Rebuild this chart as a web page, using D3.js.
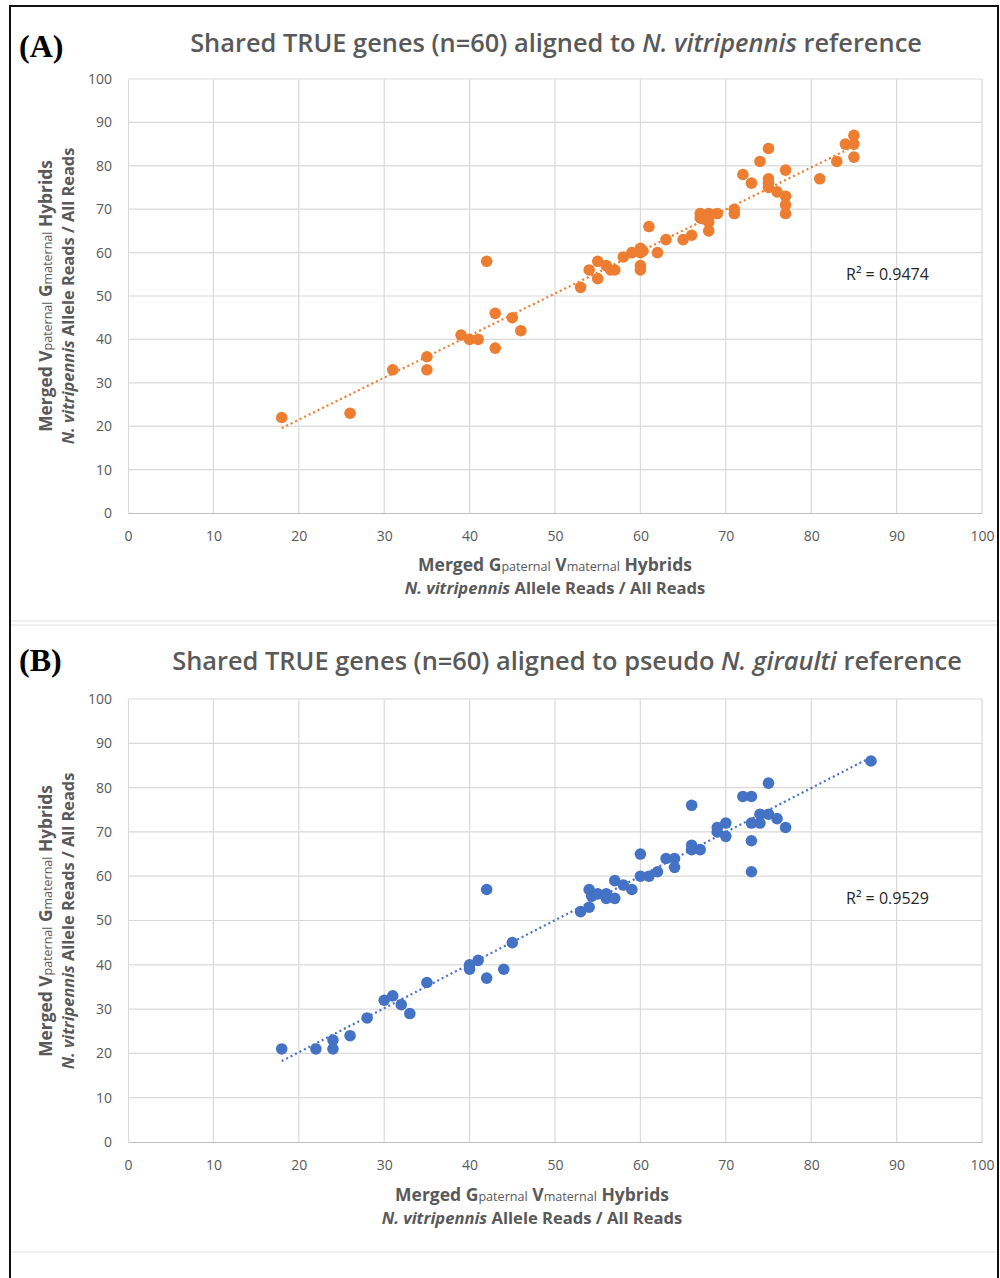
<!DOCTYPE html>
<html>
<head>
<meta charset="utf-8">
<script src="https://cdn.jsdelivr.net/npm/d3@7"></script>
<style>
  body { margin: 0; background: #fff; }
  text { font-family: "Open Sans", "Noto Sans", sans-serif; }
</style>
</head>
<body>
<div id="chart"></div>
<script>
// 刻度
const xTicks = [0, 10, 20, 30, 40, 50, 60, 70, 80, 90, 100];
const yTicks = [0, 10, 20, 30, 40, 50, 60, 70, 80, 90, 100];

// (A) 对齐到 N. vitripennis 参考
const aX = [18, 26, 31, 35, 35, 39, 40, 41, 42, 43, 43, 45, 46, 53, 54, 55, 55, 56, 56.5, 57,
            58, 59, 60, 60, 60, 60, 61, 62, 63, 65, 66, 67, 67, 68, 68, 68, 69, 71, 71, 72,
            73, 74, 75, 75, 75, 75, 76, 77, 77, 77, 77, 81, 83, 84, 85, 85, 85, 67.3, 68, 60.3];
const aY = [22, 23, 33, 36, 33, 41, 40, 40, 58, 46, 38, 45, 42, 52, 56, 58, 54, 57, 56, 56,
            59, 60, 61, 60, 57, 56, 66, 60, 63, 63, 64, 69, 68, 69, 67, 65, 69, 70, 69, 78,
            76, 81, 84, 77, 76, 75, 74, 79, 73, 71, 69, 77, 81, 85, 87, 85, 82, 67.8, 68, 60.4];
const aR2 = "R\u00B2 = 0.9474";

// (B) 对齐到 pseudo N. giraulti 参考
const bX = [18, 22, 24, 24, 26, 28, 30, 31, 32, 33, 35, 40, 40, 41, 42, 42, 44, 45, 53, 54,
            54, 54.3, 55, 56, 56, 57, 57, 58, 59, 60, 60, 61, 62, 63, 64, 64, 66, 66, 66, 67,
            69, 69, 70, 70, 72, 73, 73, 73, 73, 74, 74, 75, 75, 76, 77, 87];
const bY = [21, 21, 23, 21, 24, 28, 32, 33, 31, 29, 36, 40, 39, 41, 57, 37, 39, 45, 52, 53,
            57, 55.5, 56, 56, 55, 55, 59, 58, 57, 60, 65, 60, 61, 64, 64, 62, 76, 67, 66, 66,
            70, 71, 72, 69, 78, 78, 72, 68, 61, 74, 72, 81, 74, 73, 71, 86];
const bR2 = "R\u00B2 = 0.9529";

const svg = d3.select("#chart").append("svg")
  .attr("width", 1000).attr("height", 1278);

// 外框和分隔线
svg.append("rect").attr("x", 10).attr("y", 6).attr("width", 988).attr("height", 1290)
  .attr("fill", "none").attr("stroke", "#111").attr("stroke-width", 2);
[621, 625, 1252].forEach(y => {
  svg.append("line").attr("x1", 11).attr("x2", 997).attr("y1", y).attr("y2", y)
    .attr("stroke", "#e2e2e2").attr("stroke-width", 1.2);
});

// 按宽度调整字号
function fitWidth(sel, base, target) {
  sel.style("font-size", base + "px");
  const w = sel.node().getComputedTextLength();
  sel.style("font-size", (base * target / w) + "px");
}

function drawPanel(p) {
  const x = d3.scaleLinear().domain([0, 100]).range([128, 982]);
  const y = d3.scaleLinear().domain([0, 100]).range([p.bottom, p.top]);
  const g = svg.append("g");

  // 网格
  g.append("g").selectAll("line").data(xTicks.slice(1)).join("line")
    .attr("x1", d => x(d)).attr("x2", d => x(d)).attr("y1", y(0)).attr("y2", y(100))
    .attr("stroke", "#d9d9d9").attr("stroke-width", 1.2);
  g.append("g").selectAll("line").data(yTicks.slice(1)).join("line")
    .attr("x1", x(0)).attr("x2", x(100)).attr("y1", d => y(d)).attr("y2", d => y(d))
    .attr("stroke", "#d9d9d9").attr("stroke-width", 1.2);

  // 坐标轴
  const xa = g.append("g").attr("transform", `translate(0,${y(0)})`)
    .call(d3.axisBottom(x).tickValues(xTicks).tickSize(0).tickPadding(18));
  const ya = g.append("g").attr("transform", `translate(${x(0)},0)`)
    .call(d3.axisLeft(y).tickValues(yTicks).tickSize(0).tickPadding(16));
  xa.select(".domain").attr("stroke", "#bfbfbf").attr("stroke-width", 1.2);
  ya.select(".domain").attr("stroke", "#d9d9d9").attr("stroke-width", 1.2);
  [xa, ya].forEach(a => a.selectAll("text")
    .attr("fill", "#595959").style("font-size", "14px")
    .style("font-family", "'Open Sans', sans-serif"));

  // 趋势线（最小二乘）
  const pts = p.xs.map((v, i) => ({ x: v, y: p.ys[i] }));
  const mx = d3.mean(pts, d => d.x), my = d3.mean(pts, d => d.y);
  const slope = d3.sum(pts, d => (d.x - mx) * (d.y - my)) / d3.sum(pts, d => (d.x - mx) ** 2);
  const icpt = my - slope * mx;
  const ext = d3.extent(pts, d => d.x);
  g.append("path")
    .attr("d", d3.line().x(d => x(d)).y(d => y(icpt + slope * d))(ext))
    .attr("fill", "none").attr("stroke", p.color).attr("stroke-width", 2.2)
    .attr("stroke-dasharray", "2 3");

  // 点
  g.selectAll(".pt").data(pts).join("circle").attr("class", "pt")
    .attr("cx", d => x(d.x)).attr("cy", d => y(d.y)).attr("r", 5.8)
    .attr("fill", p.color);

  // R²
  g.append("text").attr("x", 846).attr("y", p.r2y).attr("fill", "#262626")
    .style("font-size", "16px").text(p.r2);

  // 面板标签
  g.append("text").attr("x", 19).attr("y", p.labelY)
    .style("font-family", "'Liberation Serif', serif").style("font-weight", "bold")
    .style("font-size", "32px").attr("fill", "#000").text(p.label);

  // 标题
  const t = g.append("text").attr("x", p.titleCx).attr("y", p.titleY)
    .attr("text-anchor", "middle").attr("fill", "#595959").style("font-weight", 600);
  p.title.forEach(s => t.append("tspan").style("font-style", s.i ? "italic" : "normal").text(s.t));
  fitWidth(t, 22, p.titleW);

  // X轴标题
  const xt1 = g.append("text").attr("x", p.xTitleCx).attr("y", p.xTitleY)
    .attr("text-anchor", "middle").attr("fill", "#595959").style("font-weight", "bold");
  [["Merged G", 1], ["paternal", 0.72], [" V", 1], ["maternal", 0.72], [" Hybrids", 1]]
    .forEach(([s, k]) => xt1.append("tspan").style("font-size", k + "em")
      .style("font-weight", k < 1 ? "normal" : "bold").text(s));
  fitWidth(xt1, 16, 274);
  const xt2 = g.append("text").attr("x", p.xTitleCx).attr("y", p.xTitleY + 23)
    .attr("text-anchor", "middle").attr("fill", "#595959").style("font-weight", "bold");
  xt2.append("tspan").style("font-style", "italic").text("N. vitripennis");
  xt2.append("tspan").text(" Allele Reads / All Reads");
  fitWidth(xt2, 16, 301);

  // Y轴标题
  const yg = g.append("g").attr("transform", `translate(0,${p.yTitleCy}) rotate(-90)`);
  const yt1 = yg.append("text").attr("x", 0).attr("y", 52)
    .attr("text-anchor", "middle").attr("fill", "#595959").style("font-weight", "bold");
  [["Merged V", 1], ["paternal", 0.72], [" G", 1], ["maternal", 0.72], [" Hybrids", 1]]
    .forEach(([s, k]) => yt1.append("tspan").style("font-size", k + "em")
      .style("font-weight", k < 1 ? "normal" : "bold").text(s));
  fitWidth(yt1, 16, 272);
  const yt2 = yg.append("text").attr("x", 0).attr("y", 74)
    .attr("text-anchor", "middle").attr("fill", "#595959").style("font-weight", "bold");
  yt2.append("tspan").style("font-style", "italic").text("N. vitripennis");
  yt2.append("tspan").text(" Allele Reads / All Reads");
  fitWidth(yt2, 16, 297);
}

drawPanel({
  xs: aX, ys: aY, color: "#ED7D31", top: 79, bottom: 513,
  label: "(A)", labelY: 57,
  title: [{ t: "Shared TRUE genes (n=60) aligned to " }, { t: "N. vitripennis", i: true }, { t: " reference" }],
  titleCx: 556, titleY: 52, titleW: 732,
  r2: aR2, r2y: 280,
  xTitleCx: 555, xTitleY: 571, yTitleCy: 296
});

drawPanel({
  xs: bX, ys: bY, color: "#4472C4", top: 699, bottom: 1142,
  label: "(B)", labelY: 671,
  title: [{ t: "Shared TRUE genes (n=60) aligned to pseudo " }, { t: "N. giraulti", i: true }, { t: " reference" }],
  titleCx: 567, titleY: 670, titleW: 790,
  r2: bR2, r2y: 904,
  xTitleCx: 532, xTitleY: 1201, yTitleCy: 921
});
</script>
</body>
</html>
